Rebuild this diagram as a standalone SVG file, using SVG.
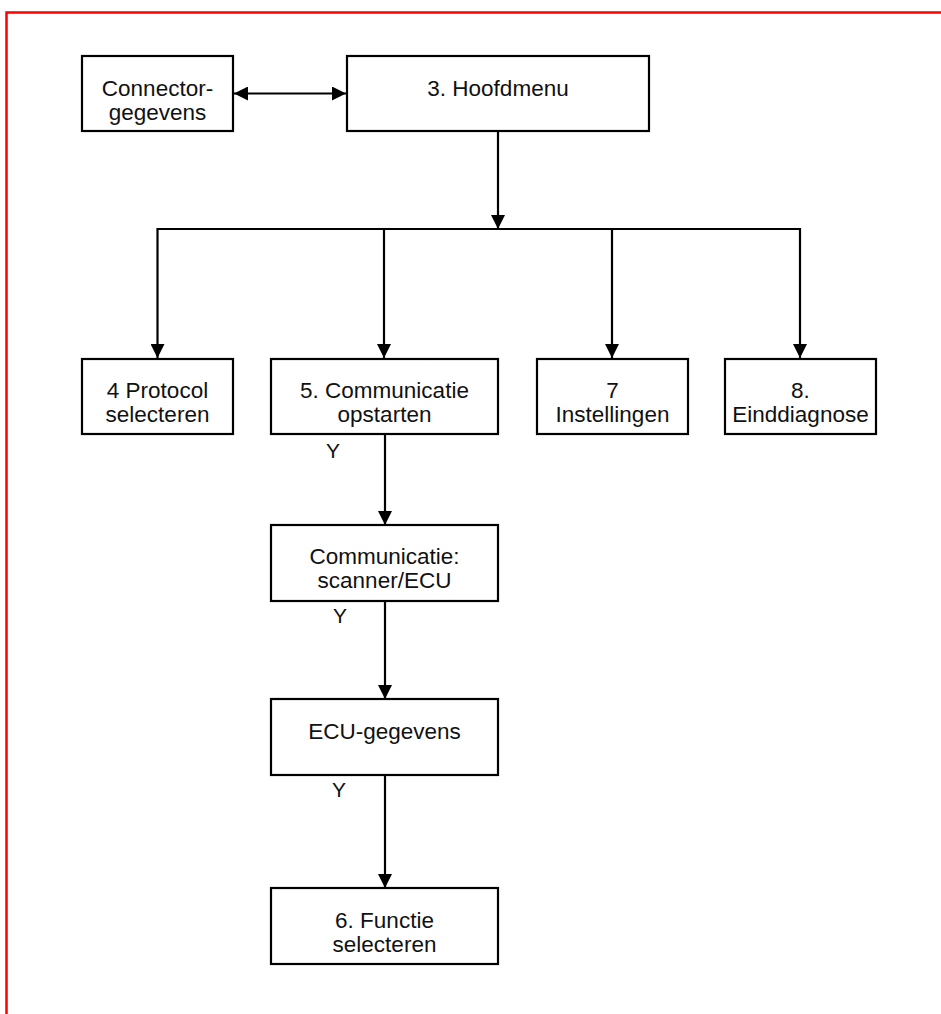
<svg xmlns="http://www.w3.org/2000/svg" width="941" height="1014" viewBox="0 0 941 1014">
  <style>
    .box { fill: #ffffff; stroke: #000000; stroke-width: 2.2; }
    .lbl { font-family: "Liberation Sans", Arial, sans-serif; font-size: 22.5px; fill: #111111; text-anchor: middle; }
    .yes { font-family: "Liberation Sans", Arial, sans-serif; font-size: 21px; fill: #111111; text-anchor: middle; }
    .wire { fill: none; stroke: #000000; stroke-width: 2.2; }
    .frame { fill: none; stroke: #ff0000; stroke-width: 2.5; }
  </style>
  <defs>
    <marker id="arrow" viewBox="0 0 14 14" refX="14" refY="7" markerWidth="14" markerHeight="14" markerUnits="userSpaceOnUse" orient="auto-start-reverse">
      <path d="M0,0 L14,7 L0,14 Z" fill="#000000"/>
    </marker>
  </defs>

  <!-- page frame -->
  <path class="frame" d="M6.5,1014 L6.5,12.5 L941,12.5"/>

  <!-- connectors -->
  <g id="connectors">
    <line class="wire" x1="234" y1="93.5" x2="346" y2="93.5" marker-start="url(#arrow)" marker-end="url(#arrow)"/>
    <line class="wire" x1="498" y1="131" x2="498" y2="229"/>
    <path d="M491,215 L505,215 L498,229 Z" fill="#000000"/>
    <line class="wire" x1="157" y1="229" x2="800" y2="229"/>
    <line class="wire" x1="157.5" y1="228" x2="157.5" y2="358" marker-end="url(#arrow)"/>
    <line class="wire" x1="384" y1="228" x2="384" y2="358" marker-end="url(#arrow)"/>
    <line class="wire" x1="612" y1="228" x2="612" y2="358" marker-end="url(#arrow)"/>
    <line class="wire" x1="800" y1="228" x2="800" y2="358" marker-end="url(#arrow)"/>
    <line class="wire" x1="385" y1="434" x2="385" y2="525" marker-end="url(#arrow)"/>
    <line class="wire" x1="385" y1="601" x2="385" y2="699" marker-end="url(#arrow)"/>
    <line class="wire" x1="385" y1="775" x2="385" y2="888" marker-end="url(#arrow)"/>
    <text class="yes" x="333" y="458">Y</text>
    <text class="yes" x="340" y="623">Y</text>
    <text class="yes" x="339" y="797">Y</text>
  </g>

  <g id="connector-data">
    <rect class="box" x="82" y="56" width="151" height="75"/>
    <text class="lbl" x="157.5" y="96">Connector-</text>
    <text class="lbl" x="157.5" y="120">gegevens</text>
  </g>

  <g id="main-menu">
    <rect class="box" x="347" y="56" width="302" height="75"/>
    <text class="lbl" x="498" y="96">3. Hoofdmenu</text>
  </g>

  <g id="protocol">
    <rect class="box" x="82" y="359" width="151" height="75"/>
    <text class="lbl" x="157.5" y="398">4 Protocol</text>
    <text class="lbl" x="157.5" y="422">selecteren</text>
  </g>

  <g id="start-comm">
    <rect class="box" x="271" y="359" width="227" height="75"/>
    <text class="lbl" x="384.5" y="398">5. Communicatie</text>
    <text class="lbl" x="384.5" y="422">opstarten</text>
  </g>

  <g id="settings">
    <rect class="box" x="537" y="359" width="151" height="75"/>
    <text class="lbl" x="612.5" y="398">7</text>
    <text class="lbl" x="612.5" y="422">Instellingen</text>
  </g>

  <g id="final-diag">
    <rect class="box" x="725" y="359" width="151" height="75"/>
    <text class="lbl" x="800.5" y="398">8.</text>
    <text class="lbl" x="800.5" y="422">Einddiagnose</text>
  </g>

  <g id="comm-link">
    <rect class="box" x="271" y="525" width="227" height="76"/>
    <text class="lbl" x="384.5" y="564">Communicatie:</text>
    <text class="lbl" x="384.5" y="588">scanner/ECU</text>
  </g>

  <g id="ecu-data">
    <rect class="box" x="271" y="699" width="227" height="76"/>
    <text class="lbl" x="384.5" y="739">ECU-gegevens</text>
  </g>

  <g id="function-select">
    <rect class="box" x="271" y="888" width="227" height="76"/>
    <text class="lbl" x="384.5" y="928">6. Functie</text>
    <text class="lbl" x="384.5" y="952">selecteren</text>
  </g>
</svg>
